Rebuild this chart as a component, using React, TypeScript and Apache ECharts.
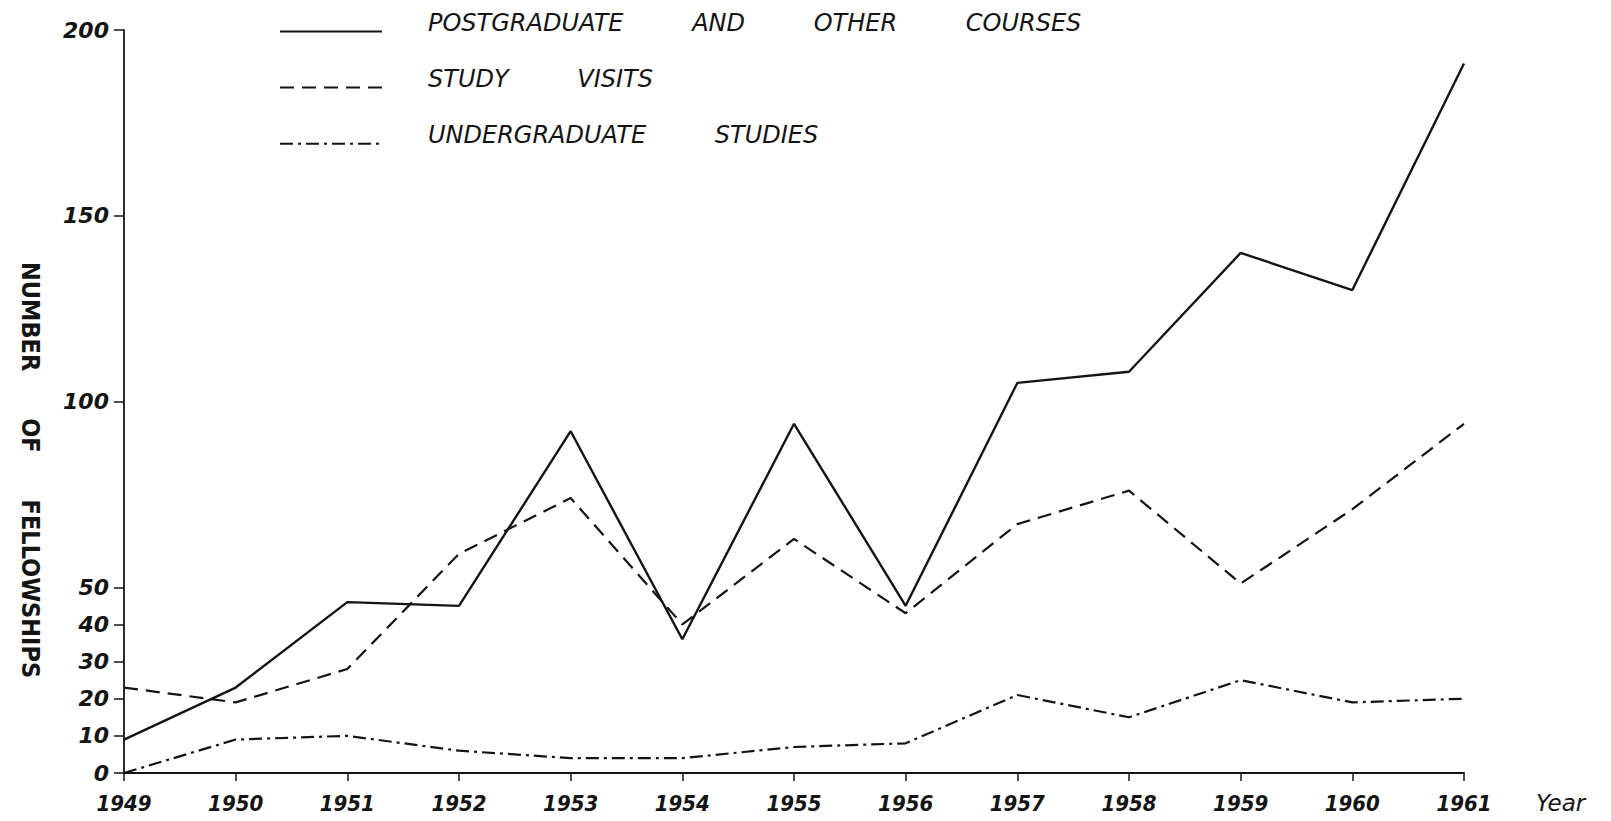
import React, { useEffect, useRef } from "react";
import * as echarts from "echarts";

const years = ["1949", "1950", "1951", "1952", "1953", "1954", "1955", "1956", "1957", "1958", "1959", "1960", "1961"];
const postgraduate = [9, 23, 46, 45, 92, 36, 94, 45, 105, 108, 140, 130, 191];
const studyVisits = [23, 19, 28, 59, 74, 40, 63, 43, 67, 76, 51, 71, 94];
const undergraduate = [0, 9, 10, 6, 4, 4, 7, 8, 21, 15, 25, 19, 20];
const yTickValues = [0, 10, 20, 30, 40, 50, 100, 150, 200];
const seriesNames = ["POSTGRADUATE AND OTHER COURSES", "STUDY VISITS", "UNDERGRADUATE STUDIES"];
const yTitle = "NUMBER OF FELLOWSHIPS";
const xName = "Year";

const FONT = "'DejaVu Sans', sans-serif";
const COND = "'DejaVu Sans Condensed', 'DejaVu Sans', sans-serif";
const INK = "#141414";

export default function App() {
  const ref = useRef<HTMLDivElement>(null);
  useEffect(() => {
    if (!ref.current) return;
    const chart = echarts.init(ref.current, undefined, { renderer: "svg" });
    const lineBase = { type: "line", symbol: "none", showSymbol: false, smooth: false };
    chart.setOption({
      animation: false,
      backgroundColor: "#ffffff",
      grid: { left: 124, right: 147, top: 30, bottom: 48, containLabel: false, outerBoundsMode: "none" },
      legend: {
        orient: "vertical",
        left: 274,
        top: 6,
        itemWidth: 102,
        itemHeight: 14,
        itemGap: 30,
        itemStyle: { opacity: 0 },
        formatter: (n: string) => "{t|" + n.split(" ").join("         ") + "}",
        textStyle: {
          fontFamily: FONT,
          fontSize: 24,
          fontStyle: "italic",
          color: INK,
          padding: [0, 0, 0, 41],
          rich: {
            t: {
              fontFamily: FONT,
              fontSize: 24,
              fontStyle: "italic",
              color: INK,
              padding: [0, 0, 17, 0],
            },
          },
        },
      },
      xAxis: {
        type: "category",
        data: years,
        boundaryGap: false,
        axisLine: { lineStyle: { color: INK, width: 2 } },
        axisTick: { show: true, length: 8, lineStyle: { color: INK, width: 1.5 } },
        axisLabel: {
          margin: 19,
          fontFamily: COND,
          fontSize: 22,
          fontStyle: "italic",
          fontWeight: "bold",
          color: INK,
        },
        splitLine: { show: false },
      },
      yAxis: {
        type: "value",
        min: 0,
        max: 200,
        interval: 10,
        axisLine: { show: true, lineStyle: { color: INK, width: 1.8 } },
        axisTick: { show: true, length: 10, customValues: yTickValues, lineStyle: { color: INK, width: 1.5 } },
        axisLabel: {
          customValues: yTickValues,
          margin: 15,
          fontFamily: FONT,
          fontSize: 22,
          fontStyle: "italic",
          fontWeight: "bold",
          color: INK,
          verticalAlign: "middle",
          padding: [0, 0, 14, 0],
        },
        splitLine: { show: false },
      },
      graphic: [
        {
          type: "text",
          x: 30,
          y: 470,
          rotation: -Math.PI / 2,
          style: {
            text: yTitle.split(" ").join("      "),
            fontFamily: COND,
            fontSize: 25,
            fontWeight: "bold",
            fill: INK,
            align: "center",
            verticalAlign: "middle",
          },
        },
        {
          type: "text",
          x: 1536,
          y: 803,
          style: {
            text: xName,
            fontFamily: FONT,
            fontSize: 23,
            fontStyle: "italic",
            fill: INK,
            align: "left",
            verticalAlign: "middle",
          },
        },
      ],
      series: [
        { ...lineBase, name: seriesNames[0], data: postgraduate, lineStyle: { color: INK, width: 2.4, type: "solid" }, itemStyle: { color: INK } },
        { ...lineBase, name: seriesNames[1], data: studyVisits, lineStyle: { color: INK, width: 2.2, type: [14, 8] }, itemStyle: { color: INK } },
        { ...lineBase, name: seriesNames[2], data: undergraduate, lineStyle: { color: INK, width: 2.2, type: [13, 5, 3, 5] }, itemStyle: { color: INK } },
      ],
    });
    return () => chart.dispose();
  }, []);
  return <div ref={ref} style={{ position: "fixed", left: 0, top: 0, width: 1611, height: 821, background: "#fff" }} />;
}
